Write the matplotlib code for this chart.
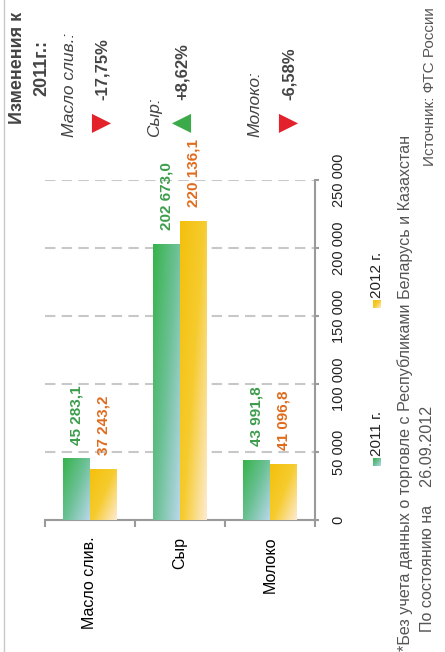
import numpy as np
import matplotlib
matplotlib.use("Agg")
import matplotlib.pyplot as plt
from matplotlib.colors import LinearSegmentedColormap
from matplotlib.lines import Line2D
from matplotlib.ticker import FuncFormatter

# data
categories = ["Масло слив.", "Сыр", "Молоко"]
values_2011 = [45283.1, 202673.0, 43991.8]
values_2012 = [37243.2, 220136.1, 41096.8]
series = ["2011 г.", "2012 г."]
change_names = ["Масло слив.:", "Сыр:", "Молоко:"]
change_values = ["-17,75%", "+8,62%", "-6,58%"]
change_up = [False, True, False]
y_ticks = [0, 50000, 100000, 150000, 200000, 250000]

W, H = 445, 652
plt.rcParams['font.family'] = ['Liberation Sans', 'DejaVu Sans']
fig = plt.figure(figsize=(W / 100, H / 100), dpi=100)


def fx(px):
    return px / W


def fy(py):
    return 1 - py / H


green_cm = LinearSegmentedColormap.from_list("g", ["#36b34a", "#6cc196", "#b9d7ea"])
yellow_cm = LinearSegmentedColormap.from_list("y", ["#f3c00c", "#f6cb2e", "#fdebd2"])

ax = fig.add_axes([fx(45), fy(520), fx(315) - fx(45), fy(180) - fy(520)])
x = np.arange(len(categories))
bw = 0.3
bars1 = ax.bar(x - bw / 2, values_2011, bw, color="#5cbb7a", zorder=2)
bars2 = ax.bar(x + bw / 2, values_2012, bw, color="#f6cc3a", zorder=2)

xx, yy = np.meshgrid(np.linspace(0, 1, 60), np.linspace(0, 1, 60))
grad = 0.55 * xx + 0.45 * (1 - yy)
for bars, cm in [(bars1, green_cm), (bars2, yellow_cm)]:
    for r in bars:
        x0, w, h = r.get_x(), r.get_width(), r.get_height()
        im = ax.imshow(grad, cmap=cm, vmin=0, vmax=1, origin="lower",
                       extent=(x0, x0 + w, 0, h), aspect="auto", zorder=3)
        im.set_clip_path(r)


def fmt(v):
    return f"{v:,.1f}".replace(",", " ").replace(".", ",")


for bars, vals, col in [(bars1, values_2011, "#3c9d4c"), (bars2, values_2012, "#e06c1e")]:
    for r, v in zip(bars, vals):
        ax.annotate(fmt(v), (r.get_x() + r.get_width() / 2, v), xytext=(0, 10),
                    textcoords="offset points", rotation=90, ha="center", va="bottom",
                    color=col, fontweight="bold", fontsize=11)

ax.set_xlim(-0.5, 2.5)
ax.set_ylim(0, 250000)
ax.set_xticks(x, categories, rotation=90, fontsize=11.5)
ax.set_xticks([-0.5, 0.5, 1.5, 2.5], minor=True)
ax.tick_params(axis="x", which="major", length=0, pad=12)
ax.tick_params(axis="x", which="minor", length=5, width=1.5, color="#9a9a9a")
ax.yaxis.tick_right()
ax.set_yticks(y_ticks)
ax.yaxis.set_major_formatter(FuncFormatter(lambda v, p: f"{v:,.0f}".replace(",", " ")))
ax.tick_params(axis="y", length=3, width=1.5, color="#9a9a9a", pad=9, labelsize=10.5,
               labelcolor="#222222")
for lab in ax.get_yticklabels():
    lab.set_rotation(90)
    lab.set_va("center")
ax.yaxis.grid(True, color="#c8c8c8", ls=(0, (5, 3)), lw=1.5)
ax.set_axisbelow(True)
for s in ["left", "top"]:
    ax.spines[s].set_visible(False)
for s in ["bottom", "right"]:
    ax.spines[s].set_color("#9a9a9a")
    ax.spines[s].set_linewidth(1.5)

# legend
for name, cm, yp in [(series[0], green_cm, 462), (series[1], yellow_cm, 304)]:
    lax = fig.add_axes([fx(373), fy(yp + 4), fx(8), 8 / H])
    lax.imshow(grad, cmap=cm, vmin=0, vmax=1, origin="lower", aspect="auto")
    lax.axis("off")
    fig.text(fx(377), fy(yp - 6), name, rotation=90, ha="center", va="bottom",
             fontsize=11, color="#222222")

# notes
fig.text(fx(405), fy(651), "*Без учета данных о торговле с Республиками Беларусь и Казахстан",
         rotation=90, ha="center", va="bottom", fontsize=11.6, color="#555555")
fig.text(fx(427), fy(632), "По состоянию на    26.09.2012",
         rotation=90, ha="center", va="bottom", fontsize=11.6, color="#555555")
fig.text(fx(430), fy(166), "Источник: ФТС России",
         rotation=90, ha="center", va="bottom", fontsize=11.0, color="#555555")

# changes panel
fig.text(fx(18), fy(68), "Изменения к", rotation=90, ha="center", va="center",
         fontsize=13, fontweight="bold", color="#444444")
fig.text(fx(42), fy(68), "2011г.:", rotation=90, ha="center", va="center",
         fontsize=13, fontweight="bold", color="#444444")
name_x = [69, 155, 255]
val_x = [102, 182, 289]
for nm, nx_, vx, val, up in zip(change_names, name_x, val_x, change_values, change_up):
    fig.text(fx(nx_), fy(137), nm, rotation=90, ha="center", va="bottom",
             fontsize=12.5, style="italic", color="#444444")
    fig.text(fx(vx), fy(122), "▲" if up else "▼", rotation=90, ha="center", va="center",
             fontsize=18, color="#3aaa49" if up else "#e3202a", family="DejaVu Sans")
    fig.text(fx(vx), fy(100), val, rotation=90, ha="center", va="bottom",
             fontsize=12, fontweight="bold", color="#444444")

fig.add_artist(Line2D([fx(4), fx(4)], [0, 1], transform=fig.transFigure, color="#c8c8c8", lw=1))

fig.savefig("out.png", dpi=100)
